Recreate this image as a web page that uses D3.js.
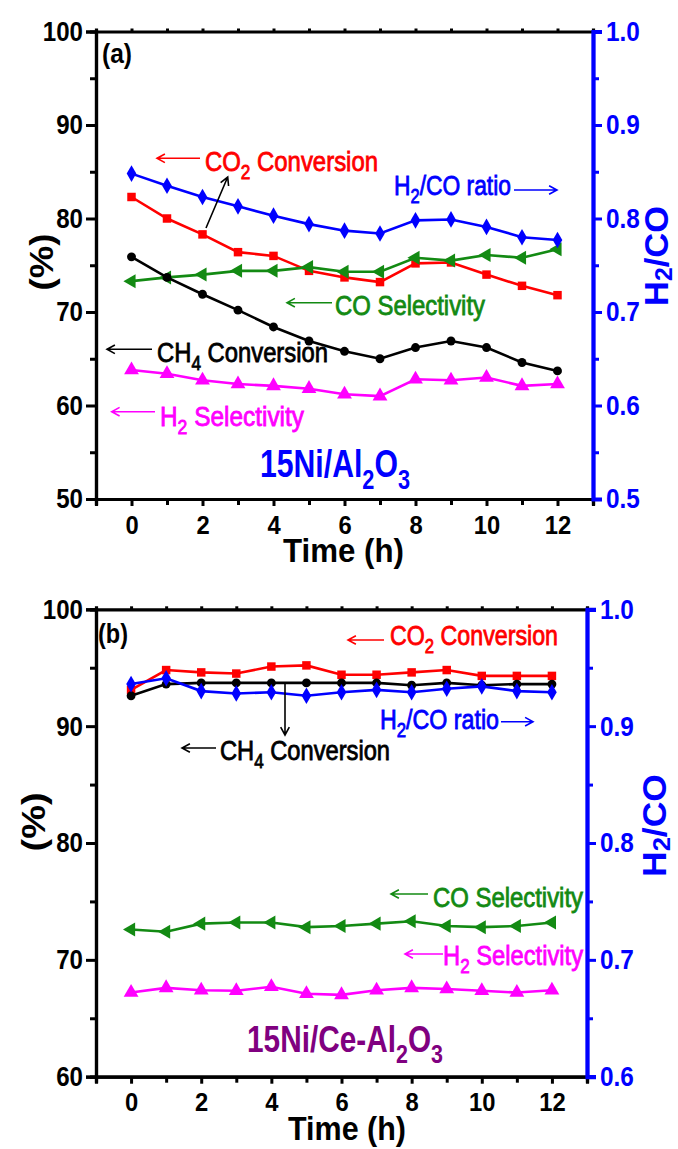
<!DOCTYPE html>
<html><head><meta charset="utf-8">
<script src="https://cdn.jsdelivr.net/npm/d3@7"></script>
<style>
body{margin:0;background:#fff;}
svg{display:block;}
text{font-family:"Liberation Sans Narrow","Arial Narrow","Liberation Sans",sans-serif;}
</style></head><body>
<svg id="c" width="678" height="1149"></svg>
<script>
// ---------------- DATA ----------------
const hours = [0,1,2,3,4,5,6,7,8,9,10,11,12];
const xTickLabels = [0,2,4,6,8,10,12];
const leftTicksA = [50,60,70,80,90,100];
const rightTicksA = [0.5,0.6,0.7,0.8,0.9,1.0];
const leftTicksB = [60,70,80,90,100];
const rightTicksB = [0.6,0.7,0.8,0.9,1.0];

// Panel (a): 15Ni/Al2O3
const aCH4   = [75.9,73.7,71.9,70.2,68.4,66.9,65.8,65.0,66.2,66.9,66.2,64.6,63.7];
const aCO2   = [82.3,80.0,78.3,76.4,76.0,74.4,73.7,73.2,75.2,75.3,74.0,72.8,71.8];
const aCOsel = [73.3,73.7,74.0,74.4,74.4,74.8,74.3,74.3,75.8,75.5,76.1,75.8,76.7];
const aH2sel = [63.8,63.4,62.7,62.3,62.1,61.8,61.2,61.0,62.8,62.7,63.0,62.1,62.3];
const aRatio = [0.848,0.835,0.823,0.813,0.803,0.794,0.787,0.784,0.798,0.799,0.791,0.780,0.777];

// Panel (b): 15Ni/Ce-Al2O3
const bCH4   = [92.6,93.6,93.7,93.7,93.7,93.7,93.7,93.7,93.5,93.7,93.5,93.6,93.6];
const bCO2   = [93.1,94.8,94.6,94.5,95.1,95.2,94.4,94.4,94.6,94.8,94.3,94.3,94.3];
const bCOsel = [72.6,72.4,73.1,73.2,73.2,72.8,72.9,73.1,73.3,72.9,72.8,72.9,73.2];
const bH2sel = [67.2,67.6,67.4,67.35,67.7,67.1,67.0,67.4,67.6,67.5,67.35,67.2,67.4];
const bRatio = [0.936,0.941,0.930,0.928,0.929,0.926,0.929,0.931,0.929,0.932,0.934,0.930,0.929];

// ---------------- STYLE ----------------
const C = {red:"#ff0000", black:"#000000", green:"#138a13", magenta:"#ff00ff", blue:"#0000ff", purple:"#800080"};
const svg = d3.select("#c");

function fit(sel, w){ return sel.attr("textLength", w).attr("lengthAdjust","spacingAndGlyphs"); }
function condense(sel, f){
  sel.each(function(){ const w = this.getComputedTextLength(); if(w>0) fit(d3.select(this), w*f); });
}

function arrow(g, x1, y1, x2, y2, color){ // head at (x2,y2)
  const a = Math.atan2(y2-y1, x2-x1), L = 9, W = 0.5;
  g.append("path")
    .attr("d", `M${x1},${y1}L${x2},${y2}M${x2-L*Math.cos(a-W)},${y2-L*Math.sin(a-W)}L${x2},${y2}L${x2-L*Math.cos(a+W)},${y2-L*Math.sin(a+W)}`)
    .attr("fill","none").attr("stroke",color).attr("stroke-width",1.6);
}

// one text element, subscripts as lowered tspans, squeezed to a given width
function rich(g, x, y, segs, color, size, width, bold, drop){
  const t = g.append("text").attr("x",x).attr("y",y).attr("fill",color).attr("font-size",size)
    .attr("font-weight", bold ? "bold" : "normal");
  if(!bold) t.attr("stroke",color).attr("stroke-width",0.8);
  const d = drop != null ? drop : size*0.3;
  let shift = 0;
  segs.forEach(s=>{
    if(typeof s === "string"){ t.append("tspan").attr("dy",-shift).text(s); shift = 0; }
    else { t.append("tspan").attr("dy",d-shift).attr("font-size",size*0.72).text(s.sub); shift = d; }
  });
  if(width) fit(t, width);
  return t;
}

function panel(o){
  const g = svg.append("g");
  const x = d3.scaleLinear().domain([-1,13]).range([o.left,o.right]);
  const y = d3.scaleLinear().domain(o.yDomain).range([o.bottom,o.top]);
  const y2 = d3.scaleLinear().domain(o.y2Domain).range([o.bottom,o.top]);

  const styleAxis = (sel, color, fs, f) => {
    sel.select(".domain").attr("stroke",color).attr("stroke-width",3.2);
    sel.selectAll(".tick line").attr("stroke",color).attr("stroke-width",3);
    const tx = sel.selectAll(".tick text").attr("fill",color).attr("font-size",fs).attr("font-weight","bold")
      .attr("font-family",'"Liberation Sans Narrow","Arial Narrow","Liberation Sans",sans-serif');
    if(f) condense(tx, f);
  };
  // left axis: minor + major
  const minorY = d3.range(o.yDomain[0]+5, o.yDomain[1], 10);
  g.append("g").attr("transform",`translate(${o.left},0)`)
    .call(d3.axisLeft(y).tickValues(minorY).tickSize(6).tickFormat(""))
    .call(s=>styleAxis(s,"#000",26));
  g.append("g").attr("transform",`translate(${o.left},0)`)
    .call(d3.axisLeft(y).tickValues(o.leftTicks).tickSize(10).tickPadding(3).tickFormat(d3.format("d")))
    .call(s=>styleAxis(s,"#000",28,0.86));
  // top axis
  g.append("g").attr("transform",`translate(0,${o.top})`)
    .call(d3.axisTop(x).tickValues(hours).tickSize(3).tickFormat(""))
    .call(s=>styleAxis(s,"#000",26));
  // bottom axis
  g.append("g").attr("transform",`translate(0,${o.bottom})`)
    .call(d3.axisBottom(x).tickValues(hours.filter(h=>h%2)).tickSize(6).tickFormat(""))
    .call(s=>styleAxis(s,"#000",26));
  g.append("g").attr("transform",`translate(0,${o.bottom})`)
    .call(d3.axisBottom(x).tickValues(xTickLabels).tickSize(7).tickPadding(10).tickFormat(d3.format("d")))
    .call(s=>styleAxis(s,"#000",25,0.95));
  // right axis
  const minorY2 = d3.range(o.y2Domain[0]+0.05, o.y2Domain[1]-0.01, 0.1);
  g.append("g").attr("transform",`translate(${o.right},0)`)
    .call(d3.axisRight(y2).tickValues(minorY2).tickSize(6).tickFormat(""))
    .call(s=>styleAxis(s,C.blue,26));
  g.append("g").attr("transform",`translate(${o.right},0)`)
    .call(d3.axisRight(y2).tickValues(o.rightTicks).tickSize(9).tickPadding(4).tickFormat(d3.format(".1f")))
    .call(s=>{styleAxis(s,C.blue,28,0.87); s.select(".domain").attr("stroke-width",4.2);});

  // series
  o.series.forEach(s=>{
    const sc = s.right ? y2 : y;
    g.append("path").datum(s.values)
      .attr("d", d3.line().x((d,i)=>x(hours[i])).y(d=>sc(d)))
      .attr("fill","none").attr("stroke",s.color).attr("stroke-width",2.6);
    g.append("g").selectAll("path").data(s.values).join("path")
      .attr("transform",(d,i)=>`translate(${x(hours[i])},${sc(d)}) rotate(${s.rot||0})`)
      .attr("d", d3.symbol().type(s.sym).size(s.size))
      .attr("fill",s.color);
  });

  // axis titles
  fit(g.append("text").attr("x",o.xTitleX).attr("y",o.xTitleY)
    .attr("font-size",33).attr("font-weight","bold").text("Time (h)"), o.xTitleW);
  fit(g.append("text").attr("transform",`translate(${o.pctX},${o.pctY}) rotate(-90)`).attr("text-anchor","middle")
    .attr("font-size",33).attr("font-weight","bold").text("(%)"), o.pctW);
  const rg = g.append("g").attr("transform",`translate(${o.rtX},${o.rtY}) rotate(-90)`);
  rich(rg, 0, 0, ["H",{sub:"2"},"/CO"], C.blue, 34, o.rtW, true, 4);
  return {g,x,y,y2};
}

// ---------------- PANEL A ----------------
const A = panel({left:96,right:593,top:31.5,bottom:499,yDomain:[50,100],y2Domain:[0.5,1.0],
  leftTicks:leftTicksA,rightTicks:rightTicksA,
  xTitleX:283,xTitleY:562,xTitleW:121,pctX:53,pctY:262,pctW:57,rtX:668,rtY:306,rtW:100,
  series:[
    {values:aCO2,color:C.red,sym:d3.symbolSquare,size:72},
    {values:aCOsel,color:C.green,sym:d3.symbolTriangle,size:85,rot:-90},
    {values:aH2sel,color:C.magenta,sym:d3.symbolTriangle,size:95},
    {values:aCH4,color:C.black,sym:d3.symbolCircle,size:62},
    {values:aRatio,color:C.blue,sym:d3.symbolDiamond,size:80,right:true}
  ]});
{
  const g = A.g;
  fit(g.append("text").attr("x",102).attr("y",63).attr("font-size",28).attr("font-weight","bold").text("(a)"),30);
  arrow(g,200,158.3,157,158.3,C.red);
  rich(g,205,171,["CO",{sub:"2"}," Conversion"],C.red,27,173);
  arrow(g,206,228,227.7,177,C.black);
  rich(g,394,195,["H",{sub:"2"},"/CO ratio"],C.blue,27,117);
  arrow(g,514,190,557,190,C.blue);
  arrow(g,332,302.7,287,302.7,C.green);
  rich(g,335,315,["CO Selectivity"],C.green,27,150);
  arrow(g,152,349.3,107,349.3,C.black);
  rich(g,157,361.5,["CH",{sub:"4"}," Conversion"],C.black,27,171);
  arrow(g,155,411.7,111.7,411.7,C.magenta);
  rich(g,160,425.7,["H",{sub:"2"}," Selectivity"],C.magenta,27,144);
  rich(g,260,477,["15Ni/Al",{sub:"2"},"O",{sub:"3"}],C.blue,39,150,true);
}

// ---------------- PANEL B ----------------
const B = panel({left:96,right:587,top:609.3,bottom:1076.7,yDomain:[60,100],y2Domain:[0.6,1.0],
  leftTicks:leftTicksB,rightTicks:rightTicksB,
  xTitleX:288,xTitleY:1140,xTitleW:118,pctX:45,pctY:822,pctW:59,rtX:666,rtY:877,rtW:103,
  series:[
    {values:bCO2,color:C.red,sym:d3.symbolSquare,size:72},
    {values:bCOsel,color:C.green,sym:d3.symbolTriangle,size:85,rot:-90},
    {values:bH2sel,color:C.magenta,sym:d3.symbolTriangle,size:95},
    {values:bCH4,color:C.black,sym:d3.symbolCircle,size:62},
    {values:bRatio,color:C.blue,sym:d3.symbolDiamond,size:80,right:true}
  ]});
{
  const g = B.g;
  fit(g.append("text").attr("x",98).attr("y",643).attr("font-size",28).attr("font-weight","bold").text("(b)"),30);
  arrow(g,384,640,348,640,C.red);
  rich(g,390,645,["CO",{sub:"2"}," Conversion"],C.red,27,168);
  arrow(g,285,683,285,735,C.black);
  rich(g,380,729,["H",{sub:"2"},"/CO ratio"],C.blue,27,119);
  arrow(g,501,721.7,533,721.7,C.blue);
  arrow(g,216,748,182,748,C.black);
  rich(g,220,760,["CH",{sub:"4"}," Conversion"],C.black,27,170);
  arrow(g,428,894,391,894,C.green);
  rich(g,433,906.7,["CO Selectivity"],C.green,27,150);
  arrow(g,443,954,405,954,C.magenta);
  rich(g,443,965,["H",{sub:"2"}," Selectivity"],C.magenta,27,140);
  rich(g,247,1052,["15Ni/Ce-Al",{sub:"2"},"O",{sub:"3"}],C.purple,37,196,true);
}
</script>
</body></html>
